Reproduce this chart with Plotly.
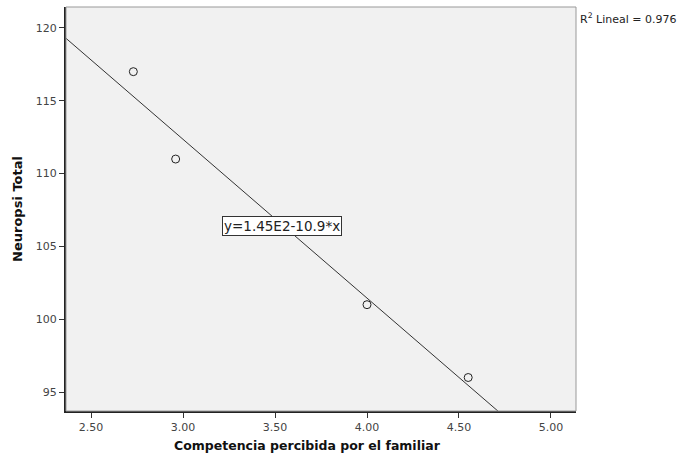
import numpy as np
import plotly.graph_objects as go

competencia = [2.73, 2.96, 4.00, 4.55]
neuropsi = [117, 111, 101, 96]
x_ticks = [2.5, 3.0, 3.5, 4.0, 4.5, 5.0]
x_tick_labels = ["2.50", "3.00", "3.50", "4.00", "4.50", "5.00"]
y_ticks = [95, 100, 105, 110, 115, 120]

slope, intercept = np.polyfit(competencia, neuropsi, 1)
x_range = [2.364, 5.136]
y_range = [93.7, 121.44]
line_x = np.array(x_range)
line_y = intercept + slope * line_x

fig = go.Figure()
fig.add_trace(go.Scatter(x=line_x, y=line_y, mode="lines",
                         line=dict(color="#333333", width=1), showlegend=False))
fig.add_trace(go.Scatter(x=competencia, y=neuropsi, mode="markers",
                         marker=dict(symbol="circle-open", size=8, color="#222222",
                                     line=dict(width=1)), showlegend=False))

fig.add_annotation(x=3.54, y=106.4, xref="x", yref="y", text="y=1.45E2-10.9*x",
                   showarrow=False, bgcolor="white", bordercolor="#333333", borderwidth=1,
                   borderpad=1, font=dict(family="DejaVu Sans", size=13.5, color="#222222"))
fig.add_annotation(x=1.003, y=0.995, xref="paper", yref="paper", xanchor="left", yanchor="top",
                   text="R<sup>2</sup> Lineal = 0.976", showarrow=False,
                   font=dict(family="DejaVu Sans", size=11, color="#222222"))
fig.add_annotation(x=(307 - 66) / 510, y=-0.085, xref="paper", yref="paper",
                   xanchor="center", yanchor="middle",
                   text="<b>Competencia percibida por el familiar</b>", showarrow=False,
                   font=dict(family="DejaVu Sans", size=12.5, color="#111111"))

axis_common = dict(showgrid=False, zeroline=False, ticks="outside", ticklen=5,
                   tickcolor="#333333", tickfont=dict(family="DejaVu Sans", size=11, color="#444444"))
fig.update_xaxes(range=x_range, tickvals=x_ticks, ticktext=x_tick_labels,
                 showline=True, linecolor="#222222", linewidth=2, mirror=False,
                 **axis_common)
fig.update_yaxes(range=y_range, tickvals=y_ticks,
                 showline=True, linecolor="#222222", linewidth=2, mirror=False,
                 title=dict(text="<b>Neuropsi Total</b>",
                            font=dict(family="DejaVu Sans", size=13, color="#111111"), standoff=10),
                 **axis_common)

fig.add_shape(type="rect", xref="paper", yref="paper", x0=0, x1=1, y0=0, y1=1,
              line=dict(color="#999999", width=1), layer="above")

fig.update_layout(width=682, height=456, margin=dict(l=66, r=106, t=7, b=45),
                  plot_bgcolor="#f1f1f1", paper_bgcolor="white")
fig.write_html("out.html")
